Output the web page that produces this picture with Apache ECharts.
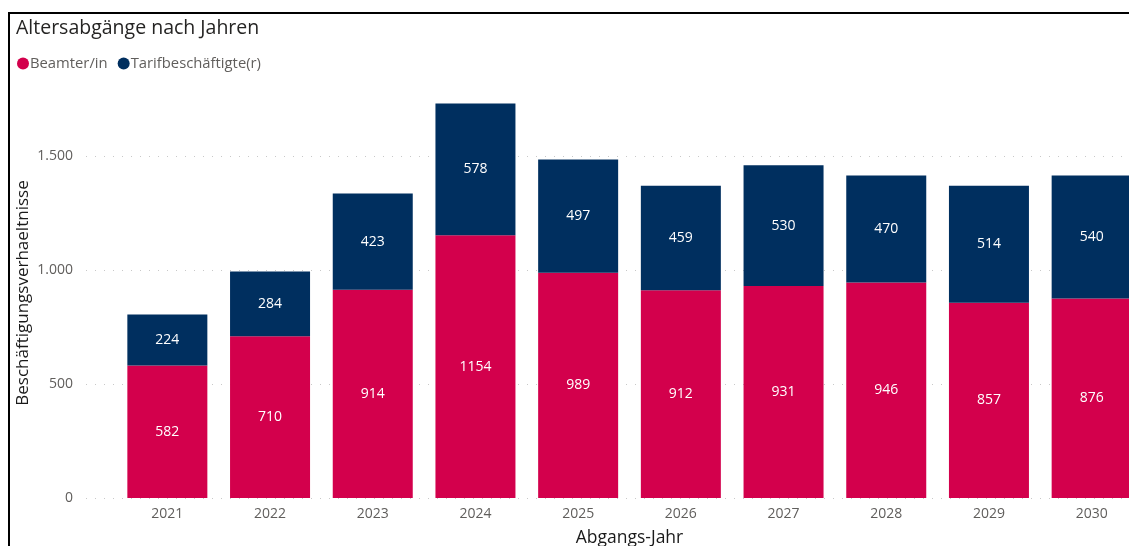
<!DOCTYPE html>
<html>
<head>
<meta charset="utf-8">
<script src="https://cdn.jsdelivr.net/npm/echarts@6/dist/echarts.min.js"></script>
<style>
  html, body { margin: 0; padding: 0; background: #fff; overflow: hidden; }
  #frame {
    position: absolute; left: 8px; top: 12px; width: 1140px; height: 560px;
    border-top: 2px solid #000; border-left: 2px solid #000; box-sizing: border-box;
  }
  #chart { position: absolute; left: 0; top: 0; width: 1129px; height: 546px; }
</style>
</head>
<body>
<div id="frame"></div>
<div id="chart"></div>
<script>
// Abgangsjahre
const years = ['2021', '2022', '2023', '2024', '2025', '2026', '2027', '2028', '2029', '2030'];
// Beamter/in
const beamte = [582, 710, 914, 1154, 989, 912, 931, 946, 857, 876];
// Tarifbeschäftigte(r)
const tarif = [224, 284, 423, 578, 497, 459, 530, 470, 514, 540];
const yTicks = [0, 500, 1000, 1500];

const fontFam = '"Open Sans", "Noto Sans", sans-serif';
const fmt = v => String(v).replace(/\B(?=(\d{3})+(?!\d))/g, '.');

let myChart = echarts.init(document.getElementById('chart'));

var option = {
  animation: false,
  textStyle: { fontFamily: fontFam },
  title: {
    text: 'Altersabgänge nach Jahren',
    left: 11, top: 13,
    textStyle: { fontSize: 19.5, fontWeight: 'normal', color: '#252423', fontFamily: fontFam }
  },
  legend: {
    left: 12, top: 51,
    icon: 'circle', itemWidth: 12, itemHeight: 12, itemGap: 10,
    textStyle: { fontSize: 14.8, color: '#605E5C', padding: [0, 0, 0, -4] },
    data: ['Beamter/in', 'Tarifbeschäftigte(r)']
  },
  grid: [
    // gitterlinien + y-achse
    { left: 86, right: 0, top: 88, bottom: 48, outerBoundsMode: 'none', containLabel: false },
    // balken
    { left: 116, right: -14, top: 88, bottom: 48, outerBoundsMode: 'none', containLabel: false }
  ],
  xAxis: [
    { gridIndex: 0, type: 'value', min: 0, max: 1, show: false },
    {
      gridIndex: 1, type: 'category', data: years,
      axisLine: { show: false }, axisTick: { show: false },
      axisLabel: { color: '#605E5C', fontSize: 14, margin: 9 },
      name: 'Abgangs-Jahr', nameLocation: 'middle', nameGap: 31, nameMoveOverlap: false,
      nameTextStyle: { fontSize: 17.5, color: '#1a1a1a' }
    }
  ],
  yAxis: [
    {
      gridIndex: 0, type: 'value', min: 0, max: 1800, interval: 500,
      axisLine: { show: false }, axisTick: { show: false },
      axisLabel: {
        color: '#605E5C', fontSize: 14, margin: 13, showMaxLabel: false,
        formatter: v => (yTicks.indexOf(v) >= 0 ? fmt(v) : '')
      },
      splitLine: { show: true, showMaxLine: false, lineStyle: { color: '#c8c8c8', type: [1, 8], width: 1 } },
      name: 'Beschäftigungsverhaeltnisse', nameLocation: 'middle', nameGap: 54, nameMoveOverlap: false,
      nameTextStyle: { fontSize: 17, color: '#1a1a1a' }
    },
    {
      gridIndex: 1, type: 'value', min: 0, max: 1800, show: false,
      splitLine: { show: false }
    }
  ],
  series: [
    {
      name: 'Beamter/in', type: 'bar', stack: 'total',
      xAxisIndex: 1, yAxisIndex: 1,
      barWidth: 80,
      data: beamte,
      itemStyle: { color: '#D3004C' },
      label: { show: true, position: 'inside', color: '#fff', fontSize: 14 }
    },
    {
      name: 'Tarifbeschäftigte(r)', type: 'bar', stack: 'total',
      xAxisIndex: 1, yAxisIndex: 1,
      barWidth: 80,
      data: tarif,
      itemStyle: { color: '#002F5F' },
      label: { show: true, position: 'inside', color: '#fff', fontSize: 14 }
    }
  ]
};

myChart.setOption(option);
</script>
</body>
</html>
